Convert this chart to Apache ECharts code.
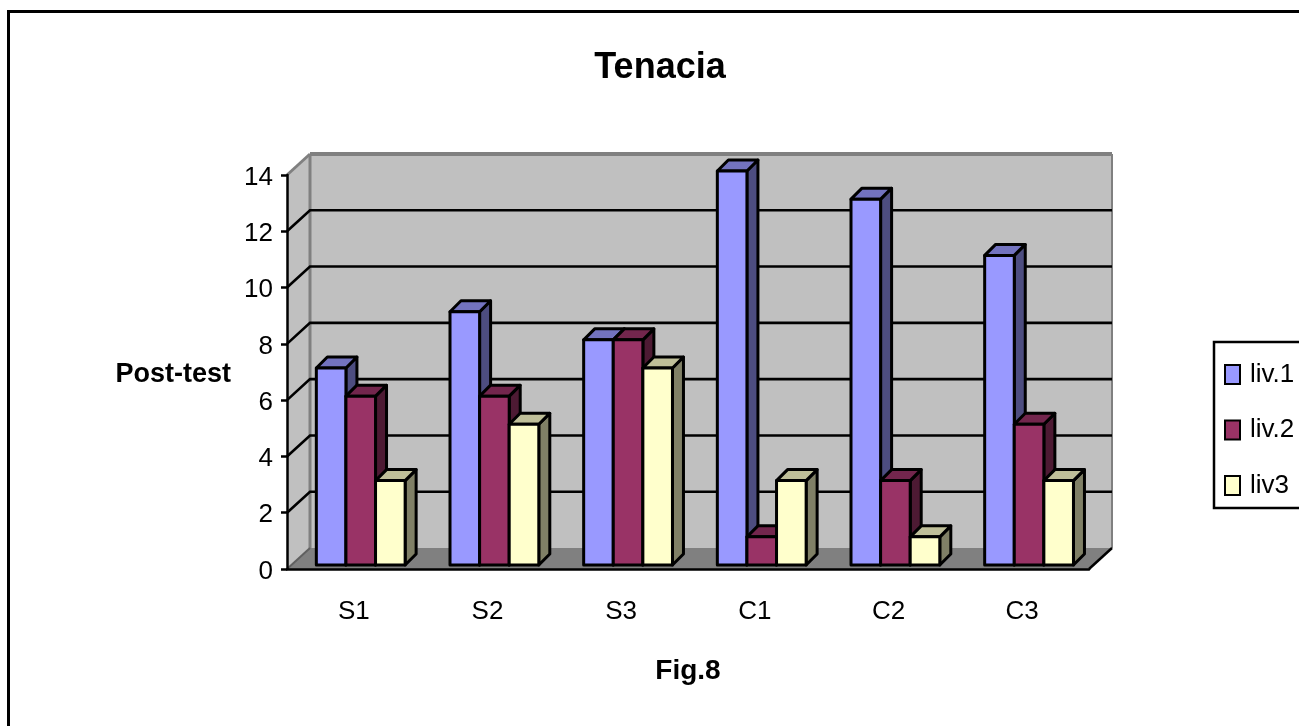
<!DOCTYPE html>
<html>
<head>
<meta charset="utf-8">
<style>html,body{margin:0;padding:0;background:#fff}#c{width:1299px;height:726px}</style>
<script src="https://cdn.jsdelivr.net/npm/echarts@6/dist/echarts.min.js"></script>
</head>
<body>
<div id="c"></div>
<script>
const categories = ['S1', 'S2', 'S3', 'C1', 'C2', 'C3'];
const liv1 = [7, 9, 8, 14, 13, 11];
const liv2 = [6, 6, 8, 1, 3, 5];
const liv3 = [3, 5, 7, 3, 1, 3];
const gridTicks = [2, 4, 6, 8, 10, 12];

const DX = 23, DY = 21;          // wall depth
const BY = 4;                    // bar inset from front
const BD = 11;                   // bar depth
const BAR = 29.6;                // bar width
const OFF = [-37.5, -7.9, 21.7]; // offset of bar left edge from category centre

const shades = [
  { front: '#9999FF', top: '#7373BF', side: '#4D4D80' },
  { front: '#993366', top: '#73264D', side: '#4D1A33' },
  { front: '#FFFFCC', top: '#BFBF99', side: '#808066' }
];
const ink = { fill: null, stroke: '#000', lineWidth: 3, lineJoin: 'round' };

function wallItem(params, api) {
  const c = params.coordSys;
  const v = api.value(1);
  const y = api.coord([0, v])[1];
  const L = c.x, R = c.x + c.width, B = c.y + c.height, T = c.y;
  const children = [];
  if (params.dataIndex === 0) {
    children.push(
      { type: 'polygon', shape: { points: [[L, T], [L + DX, T - DY], [L + DX, B - DY], [L, B]] }, style: { fill: '#C0C0C0' } },
      { type: 'polygon', shape: { points: [[L + DX, T - DY], [R + DX, T - DY], [R + DX, B - DY], [L + DX, B - DY]] }, style: { fill: '#C0C0C0' } },
      { type: 'polygon', shape: { points: [[L, B], [L + DX, B - DY], [R + DX, B - DY], [R, B]] }, style: { fill: '#808080' } },
      { type: 'line', shape: { x1: L, y1: T, x2: L + DX, y2: T - DY }, style: { stroke: '#808080', lineWidth: 3 } },
      { type: 'line', shape: { x1: L + DX, y1: T - DY, x2: R + DX, y2: T - DY }, style: { stroke: '#808080', lineWidth: 4 } },
      { type: 'line', shape: { x1: R + DX, y1: T - DY, x2: R + DX, y2: B - DY }, style: { stroke: '#808080', lineWidth: 2 } },
      { type: 'line', shape: { x1: L + DX, y1: T - DY, x2: L + DX, y2: B - DY }, style: { stroke: '#808080', lineWidth: 3 } },
      { type: 'line', shape: { x1: L, y1: B, x2: L + DX, y2: B - DY }, style: { stroke: '#606060', lineWidth: 2 } },
      { type: 'line', shape: { x1: R, y1: B, x2: R + DX, y2: B - DY }, style: { stroke: '#000', lineWidth: 2.5 } }
    );
  }
  children.push({ type: 'polyline', shape: { points: [[L, y], [L + DX, y - DY], [R + DX, y - DY]] }, style: { fill: null, stroke: '#000', lineWidth: 2.6 } });
  return { type: 'group', children };
}

function barItem(seriesIdx) {
  return function (params, api) {
    const cat = api.value(0), val = api.value(1);
    const base = api.coord([cat, 0]);
    const topPt = api.coord([cat, val]);
    const x0 = base[0] + OFF[seriesIdx];
    const x1 = x0 + BAR;
    const yb = base[1] - BY;
    const yt = topPt[1] - BY;
    const s = shades[seriesIdx];
    return {
      type: 'group',
      children: [
        { type: 'polygon', shape: { points: [[x1, yb], [x1 + BD, yb - BD], [x1 + BD, yt - BD], [x1, yt]] }, style: Object.assign({}, ink, { fill: s.side }) },
        { type: 'polygon', shape: { points: [[x0, yt], [x0 + BD, yt - BD], [x1 + BD, yt - BD], [x1, yt]] }, style: Object.assign({}, ink, { fill: s.top }) },
        { type: 'rect', shape: { x: x0, y: yt, width: BAR, height: yb - yt }, style: Object.assign({}, ink, { fill: s.front }) }
      ]
    };
  };
}

function barSeries(name, values, idx) {
  return {
    name, type: 'custom', z: 2, coordinateSystem: 'cartesian2d',
    renderItem: barItem(idx),
    itemStyle: { color: shades[idx].front, borderColor: '#000', borderWidth: 2.5 },
    encode: { x: 0, y: 1 },
    clip: false,
    data: values.map((v, i) => [i, v])
  };
}

const chart = echarts.init(document.getElementById('c'), null, { renderer: 'canvas' });
const FONT = '"Liberation Sans", Arial, sans-serif';
chart.setOption({
  animation: false,
  backgroundColor: '#fff',
  textStyle: { fontFamily: FONT, color: '#000' },
  title: {
    text: 'Tenacia', left: 655, top: 45, textAlign: 'center',
    textStyle: { fontFamily: FONT, fontSize: 36, fontWeight: 'bold', color: '#000' }
  },
  graphic: [{
    type: 'polyline', z: 10,
    shape: { points: [[8.5, 726], [8.5, 11.5], [1299, 11.5]] },
    style: { fill: null, stroke: '#000', lineWidth: 3 }
  }],
  legend: {
    left: 1214, top: 342,
    orient: 'vertical',
    data: ['liv.1', 'liv.2', 'liv3'],
    selectedMode: false,
    icon: 'rect',
    itemWidth: 15, itemHeight: 19, itemGap: 29.5,
    padding: [19.5, 40, 9.5, 10],
    borderColor: '#000', borderWidth: 2.5,
    backgroundColor: '#fff',
    textStyle: { fontFamily: FONT, fontSize: 26, color: '#000', padding: [0, 0, 0, 5] }
  },
  grid: { left: 287, top: 175, width: 802, height: 394, containLabel: false },
  xAxis: {
    type: 'category', data: categories, z: 3,
    name: 'Fig.8', nameLocation: 'middle', nameGap: 88,
    nameTextStyle: { fontFamily: FONT, fontSize: 28, fontWeight: 'bold', color: '#000' },
    axisLine: { lineStyle: { color: '#000', width: 2.5 } },
    axisTick: { length: 6, alignWithLabel: false, lineStyle: { color: '#000', width: 2.5 } },
    axisLabel: { fontFamily: FONT, fontSize: 26, color: '#000', margin: 30 }
  },
  yAxis: {
    type: 'value', min: 0, max: 14, interval: 2, z: 3,
    name: 'Post-test', nameLocation: 'middle', nameRotate: 0, nameGap: 56,
    nameTextStyle: { fontFamily: FONT, fontSize: 27, fontWeight: 'bold', color: '#000', verticalAlign: 'top', lineHeight: 6 },
    axisLine: { show: true, lineStyle: { color: '#000', width: 2.5 } },
    axisTick: { show: true, length: 6, lineStyle: { color: '#000', width: 2.5 } },
    axisLabel: { fontFamily: FONT, fontSize: 26, color: '#000', margin: 14, verticalAlign: 'top', lineHeight: 5 },
    splitLine: { show: false }
  },
  series: [
    {
      name: 'wall', type: 'custom', z: 1, coordinateSystem: 'cartesian2d', clip: false,
      renderItem: wallItem, encode: { x: 0, y: 1 }, silent: true,
      data: gridTicks.map(t => [0, t])
    },
    barSeries('liv.1', liv1, 0),
    barSeries('liv.2', liv2, 1),
    barSeries('liv3', liv3, 2)
  ]
});
</script>
</body>
</html>
